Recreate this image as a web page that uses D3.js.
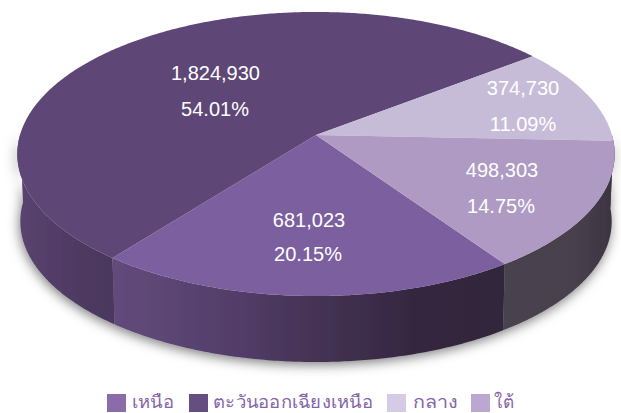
<!DOCTYPE html>
<html>
<head>
<meta charset="utf-8">
<script src="https://cdn.jsdelivr.net/npm/d3@7.9.0/dist/d3.min.js"></script>
<style>
  html, body { margin: 0; padding: 0; background: #fff; }
  svg { display: block; }
  .val { font-family: "Liberation Sans", Arial, sans-serif; font-size: 20px; fill: #fff; text-anchor: middle; }
  .leg { font-family: "Noto Sans", "DejaVu Sans", sans-serif; font-size: 18px; fill: #8464a8; }
</style>
</head>
<body>
<svg id="chart" width="621" height="413"></svg>
<script>
const regions = ['เหนือ', 'ตะวันออกเฉียงเหนือ', 'กลาง', 'ใต้'];
const counts = [681023, 1824930, 374730, 498303];
const shares = ['20.15%', '54.01%', '11.09%', '14.75%'];

const topColors = ['#7c5f9f', '#5e4777', '#c7bcd8', '#ae9ac2'];
const legendColors = ['#8a6cab', '#654f80', '#d5cbe4', '#bba8d0'];

const countX = [309, 215.5, 523, 502];
const countY = [227, 80, 95, 177];
const shareX = [308, 215, 523, 501];
const shareY = [261, 116, 131, 213];
const legendX = [107, 189, 387, 471];
const legendText = [132, 213, 413, 494];
const legendWidth = [42, 160, 45, 20];

// perspective disc: apex sits above the middle of the ellipse
const apex = [316, 135];
const rx = 296, ry = 139.5, tilt = 0.1338;
const depth = 67.6, shrink = 0.99;

function project(a, r, lower) {
  let X = r * Math.sin(a), Y = -r * Math.cos(a);
  let w = 1 - tilt * Y;
  let s = lower ? shrink : 1;
  return [apex[0] + s * rx * X / w, apex[1] + (lower ? depth : 0) + s * ry * Y / w];
}

const svg = d3.select('#chart');
const defs = svg.append('defs');

let shadow = defs.append('filter').attr('id', 'shadow')
  .attr('x', '-10%').attr('y', '-10%').attr('width', '120%').attr('height', '120%');
shadow.append('feDropShadow').attr('dx', -1).attr('dy', 3).attr('stdDeviation', 6)
  .attr('flood-color', '#000').attr('flood-opacity', 0.5);

// side wall shading runs left to right across the whole picture
function wallGradient(id, stops) {
  let g = defs.append('linearGradient').attr('id', id)
    .attr('gradientUnits', 'userSpaceOnUse')
    .attr('x1', 0).attr('x2', 621).attr('y1', 0).attr('y2', 0);
  stops.forEach((s) => g.append('stop').attr('offset', s[0] / 621).attr('stop-color', s[1]));
}
wallGradient('wall0', [[117, '#624b7b'], [220, '#553f6c'], [320, '#443254'], [420, '#34273f'], [505, '#33263d']]);
wallGradient('wall1', [[18, '#5a4470'], [70, '#4f3a63'], [117, '#4b385d']]);
wallGradient('wall2', [[500, '#4a414d'], [621, '#4a414d']]);
wallGradient('wall3', [[500, '#4a424f'], [570, '#49414d'], [615, '#3c3441']]);

const arcs = d3.pie().sort(null).value((d) => d)
  .startAngle(145.4 * Math.PI / 180)
  .endAngle((145.4 + 360) * Math.PI / 180)(counts);

const line = d3.line();

function rim(from, to, lower) {
  let n = Math.ceil((to - from) / 0.01);
  return d3.range(n + 1).map((i) => project(from + (to - from) * i / n, 1, lower));
}

// only the front half of the wall shows, and a full strip would cross itself
function wall(d) {
  let turn = d.startAngle >= Math.PI * 2 ? Math.PI * 2 : 0;
  let from = Math.max(d.startAngle - turn, Math.PI / 2);
  let to = Math.min(d.endAngle - turn, Math.PI * 1.5);
  if (from >= to) return null;
  return line(rim(from, to, false).concat(rim(from, to, true).reverse())) + 'Z';
}

// walls first, lids painted over them
let body = svg.append('g').attr('filter', 'url(#shadow)');
body.selectAll('path').data(arcs).join('path')
  .attr('d', wall)
  .attr('fill', (d, i) => `url(#wall${i})`);

svg.append('g').selectAll('path').data(arcs).join('path')
  .attr('d', (d) => line([apex].concat(rim(d.startAngle, d.endAngle, false))) + 'Z')
  .attr('fill', (d, i) => topColors[i]);

let labels = svg.append('g');
regions.forEach((r, i) => {
  labels.append('text').attr('class', 'val').attr('x', countX[i]).attr('y', countY[i])
    .text(d3.format(',')(counts[i]));
  labels.append('text').attr('class', 'val').attr('x', shareX[i]).attr('y', shareY[i])
    .text(shares[i]);
});

let legend = svg.append('g');
regions.forEach((r, i) => {
  legend.append('rect').attr('x', legendX[i]).attr('y', 394)
    .attr('width', 19).attr('height', 18).attr('fill', legendColors[i]);
  legend.append('text').attr('class', 'leg').attr('x', legendText[i]).attr('y', 408)
    .attr('textLength', legendWidth[i]).attr('lengthAdjust', 'spacingAndGlyphs')
    .text(r);
});
</script>
</body>
</html>
